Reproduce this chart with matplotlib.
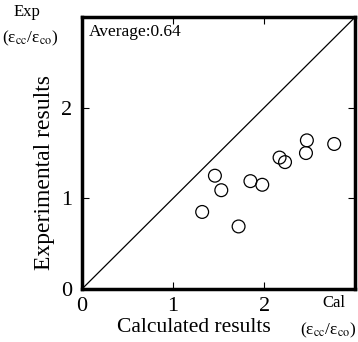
import matplotlib
matplotlib.use("Agg")
import matplotlib.pyplot as plt

plt.rcParams['font.family'] = ['Liberation Serif', 'DejaVu Serif']
plt.rcParams['mathtext.fontset'] = 'stix'

# 데이터
cal = [1.32, 1.46, 1.53, 1.72, 1.85, 1.98, 2.17, 2.23, 2.46, 2.47, 2.77]
exp = [0.85, 1.25, 1.09, 0.69, 1.19, 1.15, 1.45, 1.40, 1.50, 1.64, 1.60]
ticks = [0, 1, 2]
average_text = "Average:0.64"

fig = plt.figure(figsize=(3.58, 3.42), dpi=100)
ax = fig.add_axes([0.229, 0.155, 0.763, 0.795])

ax.plot([0, 3], [0, 3], color='black', lw=0.9)
ax.scatter(cal, exp, s=85, facecolors='none', edgecolors='black', linewidths=0.9, zorder=3)

ax.set_xlim(0, 3)
ax.set_ylim(0, 3)
ax.set_xticks(ticks)
ax.set_yticks(ticks)
ax.tick_params(direction='in', top=True, right=True, length=5, width=0.8, labelsize=16)
ax.tick_params(axis='x', pad=6)
ax.tick_params(axis='y', pad=7)
for s in ax.spines.values():
    s.set_linewidth(2.5)

ax.text(0.025, 0.975, average_text, transform=ax.transAxes, ha='left', va='top', fontsize=12.5)

ax.set_xlabel("Calculated results", fontsize=15.5)
ax.set_ylabel("Experimental results", fontsize=17)
ax.xaxis.set_label_coords(0.41, -0.105)
ax.yaxis.set_label_coords(-0.10, 0.43)

eps = r'(ε$_{\rm cc}$/ε$_{\rm co}$)'
fig.text(27/358, 1 - 12/342, "Exp", ha='center', va='center', fontsize=12)
fig.text(2/358, 1 - 38/342, eps, ha='left', va='center', fontsize=12.5)
fig.text(334/358, 1 - 303/342, "Cal", ha='center', va='center', fontsize=12)
fig.text(357/358, 1 - 330/342, eps, ha='right', va='center', fontsize=12.5)

fig.savefig("out.png", dpi=100)
